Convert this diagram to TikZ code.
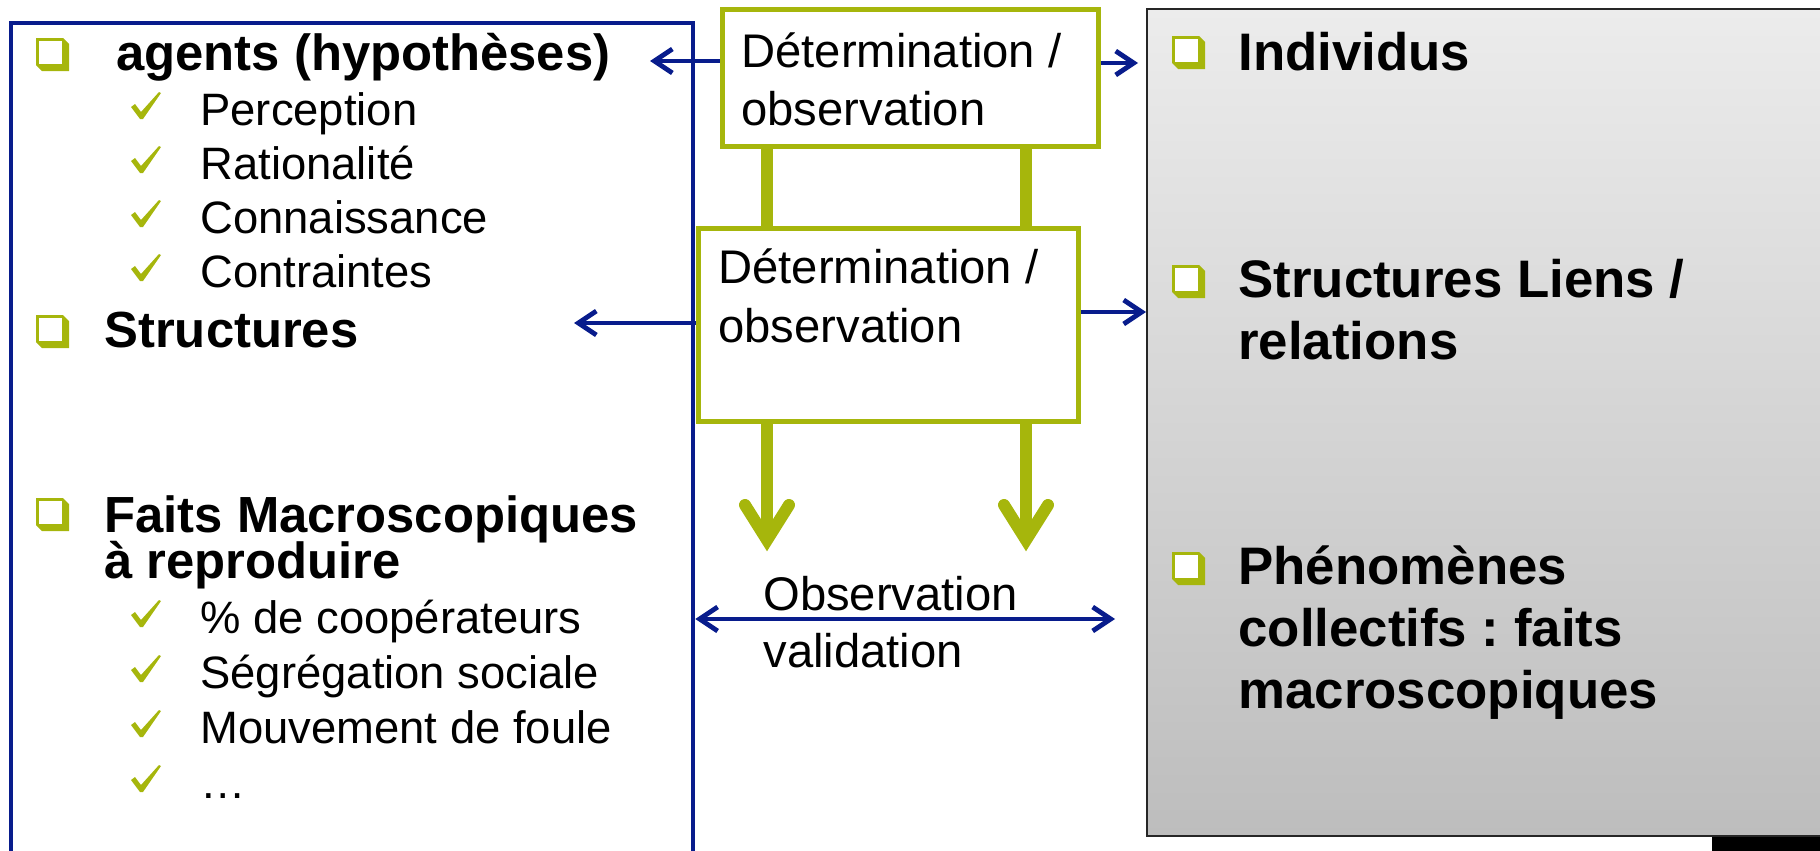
\documentclass[tikz,border=0pt]{standalone}
\usepackage{fontspec}
\setmainfont{Liberation Sans}
\usetikzlibrary{arrows.meta}
\definecolor{olv}{RGB}{166,182,12}
\definecolor{nvy}{RGB}{8,28,140}
\definecolor{gtop}{RGB}{236,236,236}
\definecolor{gbot}{RGB}{189,189,189}
\newcommand{\sqbul}[2]{\fill[olv,shift={(#1,#2)}] (0,0) -- (27,0) -- (33,6) -- (33,33) -- (6,33) -- (0,27) -- cycle;
  \fill[white,shift={(#1,#2)}] (3,3) rectangle (26,26);}
\newcommand{\chk}[2]{\fill[olv,shift={(#1,#2)}] (0,15) -- (4,12) -- (10,20) -- (28,0) -- (30,1) -- (12,27) -- (9,27) -- cycle;}
\tikzset{
  bh/.style={anchor=base west, inner sep=0pt, font=\fontsize{25.4}{30}\selectfont\bfseries},
  rh/.style={anchor=base west, inner sep=0pt, font=\fontsize{26.4}{31}\selectfont\bfseries},
  lt/.style={anchor=base west, inner sep=0pt, font=\fontsize{22.7}{27}\selectfont},
  ct/.style={anchor=base west, inner sep=0pt, font=\fontsize{23.6}{28}\selectfont},
  gbox/.style={draw=olv, line width=2.5pt, fill=white, inner sep=0pt},
  bar/.style={draw=olv, line width=6pt},
  barb/.style={draw=olv, line width=6pt, line cap=round, line join=miter},
  barrow/.style={draw=nvy, line width=2.4pt, -{Straight Barb[length=9pt,width=12pt]}},
  dbarrow/.style={draw=nvy, line width=2.4pt, {Straight Barb[length=9pt,width=12pt]}-{Straight Barb[length=9pt,width=12pt]}},
}
\begin{document}
\frenchspacing
\begin{tikzpicture}[x=0.5pt,y=-0.5pt]
\useasboundingbox (0,0) rectangle (1820,851);
% main boxes
\node[draw=nvy, line width=2.3pt, minimum width=341pt, minimum height=423.5pt, inner sep=0pt] (lb) at (352,446.5) {};
\node[draw=black!85, line width=1pt, top color=gtop, bottom color=gbot, minimum width=341.5pt, minimum height=413.5pt, inner sep=0pt] (gb) at (1488.5,422.5) {};
\fill[black] (1712,837) rectangle (1830,860);
% green structure
\coordinate (bx1) at (767,0);
\coordinate (bx2) at (1026,0);
\coordinate (v1) at (767,540);
\coordinate (v2) at (1026,540);
\node[gbox, minimum width=188pt, minimum height=68.5pt] (g1) at (910,77.5) {};
\node[gbox, minimum width=190pt, minimum height=96.5pt] (g2) at (888,324.5) {};
\draw[bar] (g1.south -| bx1) -- (g2.north -| bx1);
\draw[bar] (g1.south -| bx2) -- (g2.north -| bx2);
\draw[bar] (g2.south -| v1) -- (v1);
\draw[bar] (g2.south -| v2) -- (v2);
\draw[barb] ([shift={(-22,-35)}]v1) -- (v1) -- ([shift={(22,-35)}]v1);
\draw[barb] ([shift={(-22,-35)}]v2) -- (v2) -- ([shift={(22,-35)}]v2);
% blue arrows
\coordinate (t1) at (650,61);
\coordinate (t2) at (1138,63);
\coordinate (t3) at (574,323);
\coordinate (t4) at (1147,312);
\coordinate (t5) at (1115,619);
\draw[barrow] (g1.west |- t1) -- (t1);
\draw[barrow] (g1.east |- t2) -- (t2);
\draw[barrow] (g2.west |- t3) -- (t3);
\draw[barrow] (g2.east |- t4) -- (gb.west |- t4);
\draw[dbarrow] (lb.east |- t5) -- (t5);
% centre texts
\node[ct] (c1) at (741,67) {Détermination /};
\node[ct] (c2) at (741,125) {observation};
\node[ct] (c3) at (718,283) {Détermination /};
\node[ct] (c4) at (718,342) {observation};
\node[ct] (c5) at (763,610) {Observation};
\node[ct] (c6) at (763,667) {validation};
% left texts
\sqbul{36}{38}
\node[bh] (l1) at (116,70) {agents (hypothèses)};
\chk{131}{92}  \node[lt] (l2) at (200,125) {Perception};
\chk{131}{146} \node[lt] (l3) at (200,179) {Rationalité};
\chk{131}{200} \node[lt] (l4) at (200,233) {Connaissance};
\chk{131}{254} \node[lt] (l5) at (200,287) {Contraintes};
\sqbul{36}{315}
\node[bh] (l6) at (104,347) {Structures};
\sqbul{36}{498}
\node[bh] (l7) at (104,532) {Faits Macroscopiques};
\node[bh] (l8) at (104,578) {à reproduire};
\chk{131}{600} \node[lt] (l9) at (200,633) {\% de coopérateurs};
\chk{131}{655} \node[lt] (l10) at (200,688) {Ségrégation sociale};
\chk{131}{710} \node[lt] (l11) at (200,743) {Mouvement de foule};
\chk{131}{765} \node[lt] (l12) at (200,798) {…};
% right texts
\sqbul{1172}{36}
\node[rh] (r1) at (1238,70) {Individus};
\sqbul{1172}{265}
\node[rh] (r2) at (1238,297) {Structures Liens /};
\node[rh] (r3) at (1238,359) {relations};
\sqbul{1172}{552}
\node[rh] (r4) at (1238,584) {Phénomènes};
\node[rh] (r5) at (1238,646) {collectifs : faits};
\node[rh] (r6) at (1238,708) {macroscopiques};
\end{tikzpicture}
\end{document}
